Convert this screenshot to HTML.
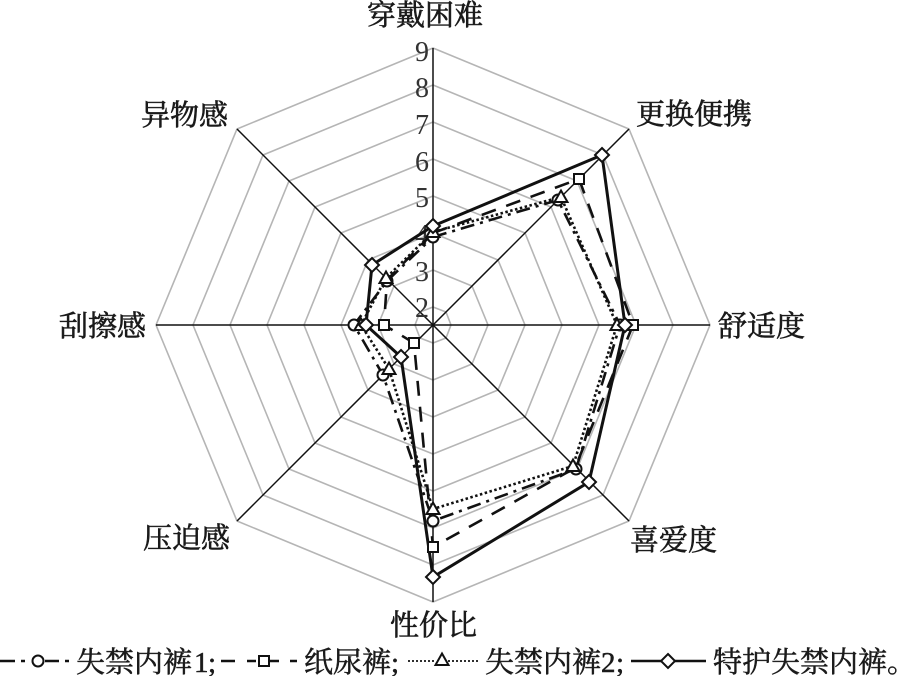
<!DOCTYPE html>
<html><head><meta charset="utf-8"><style>
html,body{margin:0;padding:0;background:#fff}
svg{display:block}
.c{font-family:"Liberation Serif","Noto Serif CJK SC",serif;font-size:29px;fill:#1a1a1a;stroke:#1a1a1a;stroke-width:.6px}
.l{font-family:"Liberation Serif","Noto Serif CJK SC",serif;font-size:29px;fill:#1a1a1a;stroke:#1a1a1a;stroke-width:.5px}
.n{font-family:"Liberation Serif",serif;font-size:28px;fill:#333;text-anchor:end}
</style></head><body>
<svg width="900" height="676" viewBox="0 0 900 676" xmlns="http://www.w3.org/2000/svg">
<defs>
<g id="mc"><circle r="5.5" fill="#fff" stroke="#111" stroke-width="2"/></g>
<g id="ms"><rect x="-5" y="-5" width="10" height="10" fill="#fff" stroke="#111" stroke-width="2"/></g>
<g id="mt"><polygon points="0,-6.5 6.5,5 -6.5,5" fill="#fff" stroke="#111" stroke-width="2"/></g>
<g id="md"><polygon points="0,-7 7,0 0,7 -7,0" fill="#fff" stroke="#111" stroke-width="2"/></g>
</defs>
<rect width="900" height="676" fill="#fff"/>
<g fill="none" stroke="#b5b5b5" stroke-width="1.6">
<polygon points="433,48 629,129 710,325 629,521 433,602 237,521 156,325 237,129"/>
<polygon points="433,85 603,155 673,325 603,495 433,565 263,495 193,325 263,155"/>
<polygon points="433,122 577,181 636,325 577,469 433,528 289,469 230,325 289,181"/>
<polygon points="433,159 551,207 599,325 551,443 433,491 315,443 267,325 315,207"/>
<polygon points="433,196 525,233 562,325 525,417 433,454 341,417 304,325 341,233"/>
<polygon points="433,233 498,260 525,325 498,390 433,417 368,390 341,325 368,260"/>
<polygon points="433,270 472,286 488,325 472,364 433,380 394,364 378,325 394,286"/>
<polygon points="433,307 446,312 451,325 446,338 433,343 420,338 415,325 420,312"/>
</g>
<g stroke="#111" stroke-width="1.5" fill="none">
<line x1="433" y1="48" x2="433" y2="602"/>
<line x1="156" y1="325" x2="710" y2="325"/>
<line x1="237" y1="129" x2="629" y2="521"/>
<line x1="237" y1="521" x2="629" y2="129"/>
</g>
<g class="n">
<text x="429" y="61">9</text><text x="429" y="97">8</text><text x="429" y="134">7</text><text x="429" y="171">6</text><text x="429" y="207">5</text><text x="429" y="244">4</text><text x="429" y="281">3</text><text x="429" y="317">2</text>
</g>
<g fill="none" stroke="#111">
<polygon stroke-width="2.6" stroke-dasharray="14 6 3 6" points="433,237 558,200 620,325 576,469 433,521 383,375 354,325 387,281"/>
<polygon stroke-width="2.6" stroke-dasharray="15 11" points="433,233 579,179 633,325 575,468 433,547 414,343 384,325 387,280"/>
<polygon stroke-width="2.6" stroke-dasharray="2.5 2.5" points="433,232 561,197 617,325 573,466 433,509 389,369 361,325 386,278"/>
<polygon stroke-width="3" points="433,226 602,155 625,325 589,482 433,577 401,357 366,325 372,265"/>
</g>
<g>
<use href="#mc" x="433" y="237"/><use href="#mc" x="558" y="200"/><use href="#mc" x="620" y="325"/><use href="#mc" x="576" y="469"/><use href="#mc" x="433" y="521"/><use href="#mc" x="383" y="375"/><use href="#mc" x="354" y="325"/><use href="#mc" x="387" y="281"/>
<use href="#ms" x="579" y="179"/><use href="#ms" x="633" y="325"/><use href="#ms" x="433" y="547"/><use href="#ms" x="414" y="343"/><use href="#ms" x="384" y="325"/>
<use href="#mt" x="433" y="232"/><use href="#mt" x="561" y="197"/><use href="#mt" x="617" y="325"/><use href="#mt" x="573" y="466"/><use href="#mt" x="433" y="509"/><use href="#mt" x="389" y="369"/><use href="#mt" x="361" y="325"/><use href="#mt" x="386" y="278"/>
<use href="#md" x="433" y="226"/><use href="#md" x="602" y="155"/><use href="#md" x="625" y="325"/><use href="#md" x="589" y="482"/><use href="#md" x="433" y="577"/><use href="#md" x="401" y="357"/><use href="#md" x="366" y="325"/><use href="#md" x="372" y="265"/>
</g>
<g class="c">
<text x="367" y="25" textLength="116">穿戴困难</text>
<text x="636" y="124" textLength="116">更换便携</text>
<text x="718" y="336" textLength="87">舒适度</text>
<text x="630" y="550" textLength="87">喜爱度</text>
<text x="390" y="635" textLength="87">性价比</text>
<text x="143" y="548" textLength="87">压迫感</text>
<text x="59" y="336" textLength="87">刮擦感</text>
<text x="141" y="125" textLength="87">异物感</text>
</g>
<g fill="none" stroke="#111" stroke-width="2.6">
<path d="M0 661H15M21 661H25"/>
<path d="M45 661H59M65 661H69"/>
<path d="M221 661H235M247 661H256M270 661H279M290 661H297"/>
<path d="M408 661H436" stroke-width="1.8" stroke-dasharray="2 2"/>
<path d="M448 661H480" stroke-width="1.8" stroke-dasharray="2 2"/>
<path d="M631 661H706" stroke-width="2.6"/>
</g>
<use href="#mc" x="38" y="661"/>
<use href="#ms" x="264" y="661"/>
<use href="#mt" x="442" y="660"/>
<use href="#md" x="668" y="661"/>
<g class="l">
<text x="76" y="672">失禁内裤</text><text x="194" y="672">1</text><text x="208" y="672">;</text>
<text x="304" y="672">纸尿裤;</text>
<text x="485" y="672">失禁内裤</text><text x="601" y="672">2</text><text x="616" y="672">;</text>
<text x="713" y="672">特护失禁内裤。</text>
</g>
</svg>
</body></html>
